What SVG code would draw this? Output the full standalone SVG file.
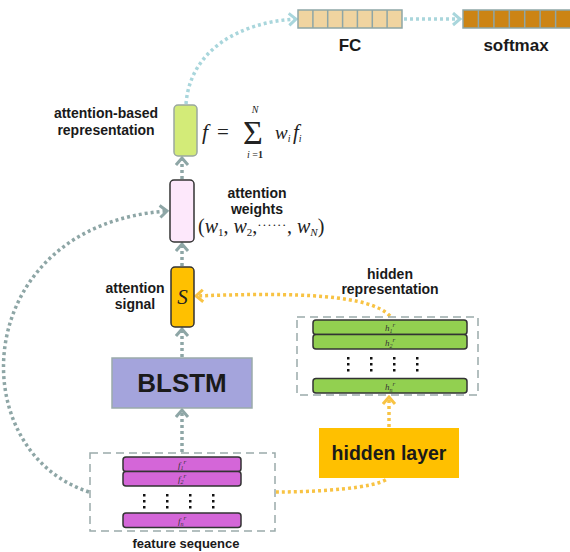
<svg xmlns="http://www.w3.org/2000/svg" width="570" height="552" viewBox="0 0 570 552">
<style>
.lbl{font-family:"Liberation Sans",Arial,sans-serif;font-weight:bold;fill:#1a1a1a;text-anchor:middle}
.math{font-family:"Liberation Serif","Times New Roman",serif;fill:#222}
.it{font-style:italic}
.dash{fill:none;stroke:#9aabab;stroke-width:1.5;stroke-dasharray:8,5}
.gray{fill:none;stroke:#8ea6a6;stroke-width:3.5;stroke-dasharray:3,3}
.lblue{fill:none;stroke:#a9d6dc;stroke-width:3.5;stroke-dasharray:3,3}
.orng{fill:none;stroke:#f8c344;stroke-width:3.5;stroke-dasharray:3,3}
.bar{stroke:#333;stroke-width:1.5}
.dot{fill:#111}
.tiny{font-family:"Liberation Serif","Times New Roman",serif;font-style:italic;font-size:9px;fill:#333;text-anchor:middle}
</style>
<defs>
<marker id="ag" markerUnits="userSpaceOnUse" markerWidth="14" markerHeight="16" refX="9" refY="7" orient="auto"><path d="M2,1 L9,7 L2,13" fill="none" stroke="#8ea6a6" stroke-width="3"/></marker>
<marker id="ab" markerUnits="userSpaceOnUse" markerWidth="14" markerHeight="16" refX="9" refY="7" orient="auto"><path d="M2,1 L9,7 L2,13" fill="none" stroke="#a9d6dc" stroke-width="3"/></marker>
<marker id="ao" markerUnits="userSpaceOnUse" markerWidth="14" markerHeight="16" refX="9" refY="7" orient="auto"><path d="M2,1 L9,7 L2,13" fill="none" stroke="#f8c344" stroke-width="3"/></marker>
</defs>

<g id="connectors">
<path class="lblue" d="M186,104 C190,50 240,22 296,19" marker-end="url(#ab)"/>
<path class="lblue" d="M404,19 L460,19" marker-end="url(#ab)"/>
<path class="gray" d="M182,179 L182,158" marker-end="url(#ag)"/>
<path class="gray" d="M182,266 L182,244" marker-end="url(#ag)"/>
<path class="gray" d="M182,357 L182,329" marker-end="url(#ag)"/>
<path class="gray" d="M182,452 L182,410" marker-end="url(#ag)"/>
<path class="gray" d="M89,492 C-40,450 -30,225 167,211" marker-end="url(#ag)"/>
<path class="orng" d="M390,316 C370,295 300,292 196,296" marker-end="url(#ao)"/>
<path class="orng" d="M389,427 L389,397" marker-end="url(#ao)"/>
<path class="orng" d="M276,492 C320,492 375,488 387,479"/>
</g>

<g id="fc">
<rect x="298" y="10" width="104" height="18" fill="#f0d4a0" stroke="#8ea6a6" stroke-width="1.5"/>
<path d="M312.9,10V28M327.7,10V28M342.6,10V28M357.4,10V28M372.3,10V28M387.1,10V28" stroke="#8ea6a6" stroke-width="1.5"/>
<text class="lbl" x="350" y="51" font-size="17">FC</text>
</g>

<g id="softmax">
<rect x="463" y="10" width="108" height="18" fill="#cc8414" stroke="#8ea6a6" stroke-width="1.5"/>
<path d="M478.4,10V28M493.9,10V28M509.3,10V28M524.7,10V28M540.1,10V28M555.6,10V28" stroke="#8ea6a6" stroke-width="1.5"/>
<text class="lbl" x="516" y="51" font-size="17">softmax</text>
</g>

<g id="attention-based">
<rect x="174" y="105" width="23" height="51" rx="4" fill="#d3eb78" stroke="#9aa8a0" stroke-width="1.5"/>
<text class="lbl" x="106" y="118" font-size="14">attention-based</text>
<text class="lbl" x="106" y="135" font-size="14">representation</text>
<text class="math it" x="202" y="139" font-size="22">f</text>
<text class="math" x="217" y="139" font-size="21">=</text>
<text class="math" x="243" y="144" font-size="34">Σ</text>
<text class="math it" x="255" y="113" font-size="10" text-anchor="middle">N</text>
<text class="math" x="255" y="158" font-size="10" text-anchor="middle"><tspan class="it">i</tspan> =<tspan font-weight="bold">1</tspan></text>
<text class="math it" x="275" y="139" font-size="19">w<tspan font-size="10" dy="3">i</tspan></text>
<text class="math it" x="293" y="139" font-size="21">f<tspan font-size="10" dy="3">i</tspan></text>
</g>

<g id="attention-weights">
<rect x="170" y="180" width="24" height="62" rx="4" fill="#fde8fb" stroke="#333" stroke-width="1.5"/>
<text class="lbl" x="257" y="198" font-size="14">attention</text>
<text class="lbl" x="257" y="214" font-size="14">weights</text>
<text class="math" x="198" y="233" font-size="20">(<tspan class="it">w</tspan><tspan font-size="11" dy="3">1</tspan><tspan dy="-3">, </tspan><tspan class="it">w</tspan><tspan font-size="11" dy="3">2</tspan><tspan dy="-3">,</tspan><tspan font-size="13" dy="-4" letter-spacing="0.6">······</tspan><tspan dy="4">, </tspan><tspan class="it">w</tspan><tspan class="it" font-size="11" dy="3">N</tspan><tspan dy="-3">)</tspan></text>
</g>

<g id="attention-signal">
<rect x="171" y="267" width="23" height="60" rx="4" fill="#ffc000" stroke="#333" stroke-width="1.5"/>
<text class="math it" x="182.5" y="304" font-size="21" text-anchor="middle">S</text>
<text class="lbl" x="135" y="293" font-size="14">attention</text>
<text class="lbl" x="135" y="309" font-size="14">signal</text>
</g>

<g id="blstm">
<rect x="112" y="358" width="140" height="50" fill="#a4a4dc" stroke="#9aabab" stroke-width="1.5"/>
<text class="lbl" x="182" y="392" font-size="26" fill="#111">BLSTM</text>
</g>

<g id="feature-sequence">
<rect class="dash" x="90" y="453" width="185" height="78"/>
<rect class="bar" x="123" y="457" width="118" height="14.5" rx="3" fill="#d466d8"/>
<rect class="bar" x="123" y="471.5" width="118" height="14.5" rx="3" fill="#d466d8"/>
<rect class="bar" x="123" y="513" width="118" height="14.5" rx="3" fill="#d466d8"/>
<text class="tiny" x="182" y="468">f<tspan font-size="6" dy="2">1</tspan><tspan font-size="7" dy="-6">r</tspan></text>
<text class="tiny" x="182" y="482">f<tspan font-size="6" dy="2">2</tspan><tspan font-size="7" dy="-6">r</tspan></text>
<text class="tiny" x="182" y="524">f<tspan font-size="6" dy="2">n</tspan><tspan font-size="7" dy="-6">r</tspan></text>
<g class="dot">
<rect x="143" y="494" width="2.5" height="2.5"/><rect x="143" y="500" width="2.5" height="2.5"/><rect x="143" y="506" width="2.5" height="2.5"/>
<rect x="166" y="494" width="2.5" height="2.5"/><rect x="166" y="500" width="2.5" height="2.5"/><rect x="166" y="506" width="2.5" height="2.5"/>
<rect x="189" y="494" width="2.5" height="2.5"/><rect x="189" y="500" width="2.5" height="2.5"/><rect x="189" y="506" width="2.5" height="2.5"/>
<rect x="212" y="494" width="2.5" height="2.5"/><rect x="212" y="500" width="2.5" height="2.5"/><rect x="212" y="506" width="2.5" height="2.5"/>
</g>
<text class="lbl" x="186" y="548" font-size="13">feature sequence</text>
</g>

<g id="hidden-representation">
<rect class="dash" x="297" y="317" width="181" height="78"/>
<rect class="bar" x="313" y="320" width="154" height="14.5" rx="3" fill="#92d050"/>
<rect class="bar" x="313" y="334.5" width="154" height="14.5" rx="3" fill="#92d050"/>
<rect class="bar" x="313" y="378.5" width="154" height="14.5" rx="3" fill="#92d050"/>
<text class="tiny" x="390" y="331">h<tspan font-size="6" dy="2">1</tspan><tspan font-size="7" dy="-6">r</tspan></text>
<text class="tiny" x="390" y="345.5">h<tspan font-size="6" dy="2">2</tspan><tspan font-size="7" dy="-6">r</tspan></text>
<text class="tiny" x="390" y="389.5">h<tspan font-size="6" dy="2">n</tspan><tspan font-size="7" dy="-6">r</tspan></text>
<g class="dot">
<rect x="347" y="357" width="2.5" height="2.5"/><rect x="347" y="363" width="2.5" height="2.5"/><rect x="347" y="369" width="2.5" height="2.5"/>
<rect x="370" y="357" width="2.5" height="2.5"/><rect x="370" y="363" width="2.5" height="2.5"/><rect x="370" y="369" width="2.5" height="2.5"/>
<rect x="393" y="357" width="2.5" height="2.5"/><rect x="393" y="363" width="2.5" height="2.5"/><rect x="393" y="369" width="2.5" height="2.5"/>
<rect x="416" y="357" width="2.5" height="2.5"/><rect x="416" y="363" width="2.5" height="2.5"/><rect x="416" y="369" width="2.5" height="2.5"/>
</g>
<text class="lbl" x="390" y="279" font-size="14">hidden</text>
<text class="lbl" x="390" y="294" font-size="14">representation</text>
</g>

<g id="hidden-layer">
<rect x="319" y="428" width="140" height="50" fill="#ffc000"/>
<text class="lbl" x="389" y="460" font-size="19.5" fill="#111">hidden layer</text>
</g>
</svg>
